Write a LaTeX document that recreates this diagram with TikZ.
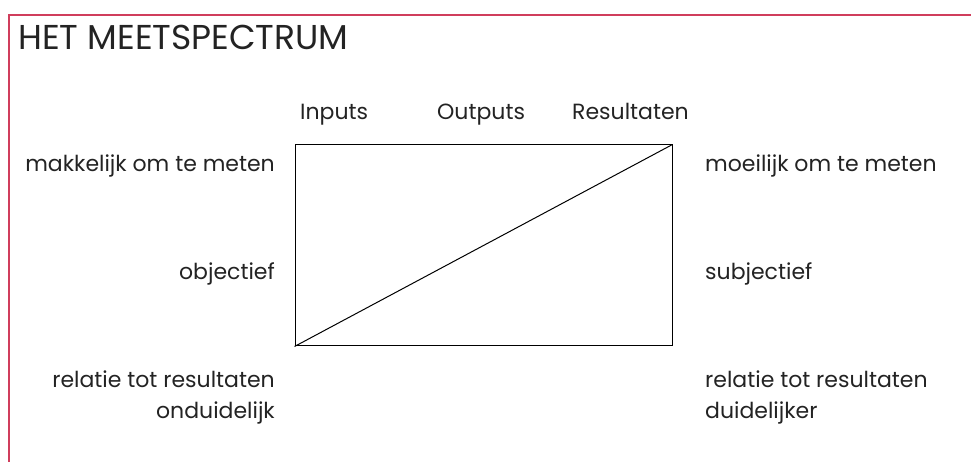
\documentclass[tikz,border=0pt]{standalone}
\usepackage{fontspec}
\setmainfont{Poppins}
\usepackage{xcolor}
\usetikzlibrary{positioning}
\definecolor{kaderrood}{RGB}{208,62,92}
\definecolor{tekstgrijs}{RGB}{35,35,35}
\tikzstyle{kader}   = [draw=kaderrood, line width=2pt]
\tikzstyle{titel}   = [font=\fontsize{34.5}{38}\selectfont, text=tekstgrijs, inner sep=0pt]
\tikzstyle{label}   = [font=\fontsize{22}{31}\selectfont, text=tekstgrijs, inner sep=0pt]
\tikzstyle{meetbox} = [rectangle, draw=black, line width=1pt, minimum width=377pt, minimum height=201pt, inner sep=0pt]

\begin{document}
\begin{tikzpicture}[x=1pt, y=1pt]
    \useasboundingbox (0,0) rectangle (971,462);
    \draw[kader] (9,0) -- (9,447) -- (971,447);

    \node (titel) [titel, anchor=base west] at (18,412) {HET MEETSPECTRUM};

    \node (box) [meetbox] at (483.5,216.5) {};
    \draw[line width=1pt] (box.south west) -- (box.north east);

    \node (inputs) [label, anchor=base west] at (300,342) {Inputs};
    \node (outputs) [label, anchor=base west] at (437,342) {Outputs};
    \node (result) [label, anchor=base west] at (572,342) {Resultaten};

    \node (makkelijk) [label, anchor=base east] at (275,290) {makkelijk om te meten};
    \node (objectief) [label, anchor=base east] at (275,182) {objectief};
    \node (onduidelijk) [label, anchor=base east, align=right] at (275,43) {relatie tot resultaten\\onduidelijk};

    \node (moeilijk) [label, anchor=base west] at (705,290) {moeilijk om te meten};
    \node (subjectief) [label, anchor=base west] at (705,182) {subjectief};
    \node (duidelijker) [label, anchor=base west, align=left] at (705,43) {relatie tot resultaten\\duidelijker};
\end{tikzpicture}
\end{document}
